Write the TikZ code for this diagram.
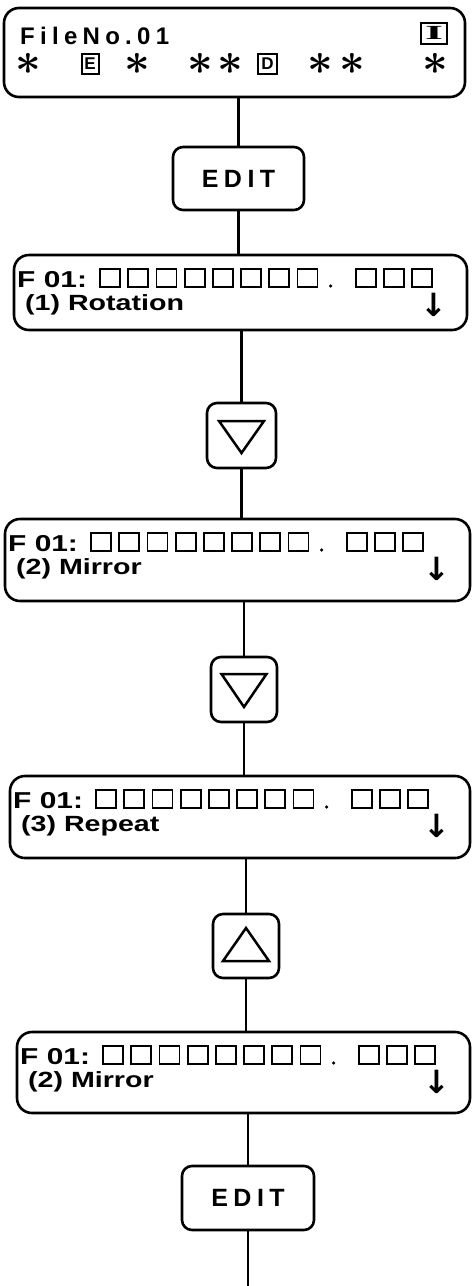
\documentclass[tikz,border=0pt]{standalone}
\usepackage{fontspec}
\usepackage{graphicx}
\setmainfont{Liberation Sans}
\newfontfamily\widef[FakeStretch=1.3]{Liberation Sans}
\newfontfamily\rowaf[FakeStretch=1.3]{Liberation Sans}
\newfontfamily\spacedf[LetterSpace=22]{Liberation Sans}
\newfontfamily\symf{DejaVu Sans}
\newfontfamily\seriff{Liberation Serif}
\tikzset{
  panel/.style={draw, rounded corners=15pt, line width=2.6pt, inner sep=0pt},
  keybox/.style={draw, rounded corners=10pt, line width=2.6pt, inner sep=0pt},
  conn/.style={line width=2.5pt},
  cell/.style={line width=1.8pt},
  tri/.style={line width=2.5pt, line join=miter},
  txt/.style={inner sep=0pt},
  tag/.style={draw, line width=2pt, inner sep=0pt, font=\bfseries\fontsize{17}{17}\selectfont},
  star/.style={inner sep=0pt}
}
\newcommand\fpanel[6]{%
  \node[panel, minimum width={(#4-#2)*1pt}, minimum height={(#5-#3)*1pt}] (#1) at ({(#2+#4)/2},{(#3+#5)/2}) {};
  \node[txt, anchor=base west, font=\rowaf\bfseries\fontsize{23}{23}\selectfont] (#1-id) at (#2+3,#3+32) {F 01:};
  \foreach \k in {0,...,7} \draw[cell] ({#2+86+28.2*\k},#3+14) rectangle +(20,18);
  \fill ({#2+86+28.2*8+5},#3+31) circle (1.8);
  \foreach \k in {9,10,11} \draw[cell] ({#2+86+2+28.2*\k},#3+14) rectangle +(20,18);
  \node[txt, anchor=base west, font=\widef\bfseries\fontsize{22}{22}\selectfont] (#1-lbl) at (#2+11,#3+55) {#6};
  \node[txt, font=\symf\bfseries\fontsize{32}{32}\selectfont] (#1-arr) at (#4-33,#3+50) {↓};
}
\newcommand\astx{\scalebox{1.8}{\fontsize{24}{24}\selectfont\boldmath$\ast$}}
\begin{document}
\begin{tikzpicture}[x=1pt,y=-1pt]
\fill[white] (0,0) rectangle (472,1286);
\useasboundingbox (0,0) rectangle (472,1286);
% top status panel
\node[panel, minimum width=461pt, minimum height=89pt] (top) at (234.5,52.5) {};
\node[txt, anchor=base west, font=\spacedf\bfseries\fontsize{24}{24}\selectfont] (fileno) at (20,44) {FileNo.01};
\node[draw, line width=2pt, inner sep=0pt, minimum width=26pt, minimum height=21pt] (ibox) at (434,33) {\scalebox{2.3}[1]{\seriff\bfseries\fontsize{20}{20}\selectfont I}};
\node[star] (s1) at (28,63.5) {\astx};
\node[tag, minimum width=17pt, minimum height=20pt] (etag) at (90,63.5) {E};
\node[star] (s2) at (137,63.5) {\astx};
\node[star] (s3) at (200,63.5) {\astx};
\node[star] (s4) at (230,63.5) {\astx};
\node[tag, minimum width=19pt, minimum height=20pt] (dtag) at (267.5,63.5) {D};
\node[star] (s5) at (320,63.5) {\astx};
\node[star] (s6) at (352,63.5) {\astx};
\node[star] (s7) at (435,63.5) {\astx};
% EDIT key
\node[keybox, minimum width=131pt, minimum height=63pt, font=\spacedf\bfseries\fontsize{25}{25}\selectfont] (edit1) at (238.5,178.5) {EDIT};
% panels
\fpanel{p1}{14}{255}{467}{330}{(1) Rotation}
\node[keybox, minimum width=69pt, minimum height=65pt] (k1) at (241.5,435.5) {};
\draw[tri] ([shift={(-22.5,-14.5)}]k1.center) -- ([shift={(22.5,-14.5)}]k1.center) -- ([shift={(0,17.5)}]k1.center) -- cycle;
\fpanel{p2}{5}{519}{470}{601}{(2) Mirror}
\node[keybox, minimum width=66pt, minimum height=65pt] (k2) at (244,689.5) {};
\draw[tri] ([shift={(-22.5,-15.5)}]k2.center) -- ([shift={(22.5,-15.5)}]k2.center) -- ([shift={(0,17.5)}]k2.center) -- cycle;
\fpanel{p3}{10}{776}{470}{858}{(3) Repeat}
\node[keybox, minimum width=66pt, minimum height=64pt] (k3) at (246,946) {};
\draw[tri] ([shift={(0,-18)}]k3.center) -- ([shift={(23,15)}]k3.center) -- ([shift={(-23,15)}]k3.center) -- cycle;
\fpanel{p4}{17}{1032}{470}{1113}{(2) Mirror}
\node[keybox, minimum width=132pt, minimum height=64pt, font=\spacedf\bfseries\fontsize{25}{25}\selectfont] (edit2) at (248,1198) {EDIT};
\coordinate (end) at (248,1286);
% connectors
\draw[conn] (edit1.north |- top.south) -- (edit1.north);
\draw[conn] (edit1.south) -- (edit1.south |- p1.north);
\draw[conn] (k1.north |- p1.south) -- (k1.north);
\draw[conn] (k1.south) -- (k1.south |- p2.north);
\draw[conn] (k2.north |- p2.south) -- (k2.north);
\draw[conn] (k2.south) -- (k2.south |- p3.north);
\draw[conn] (k3.north |- p3.south) -- (k3.north);
\draw[conn] (k3.south) -- (k3.south |- p4.north);
\draw[conn] (edit2.north |- p4.south) -- (edit2.north);
\draw[conn] (edit2.south) -- (end);
\end{tikzpicture}
\end{document}
